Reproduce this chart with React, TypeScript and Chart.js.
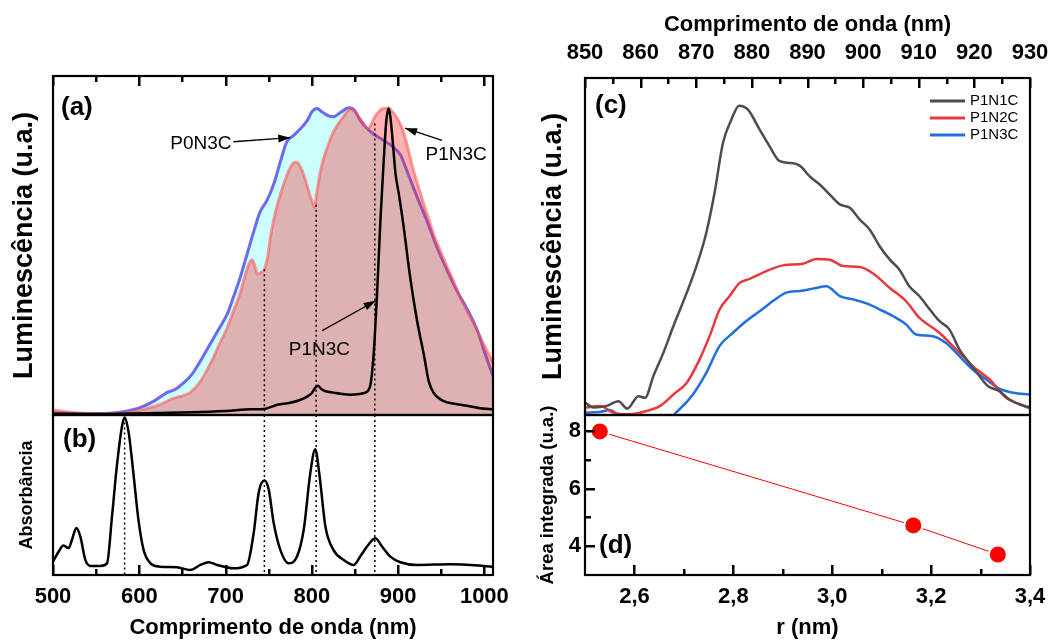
import React, { useEffect, useRef } from 'react';
import { Chart, registerables } from 'chart.js';

Chart.register(...registerables);

const FONT = "'Liberation Sans', Arial, Helvetica, sans-serif";
Chart.defaults.font.family = FONT;
Chart.defaults.color = '#000';

const W = 1049;
const H = 641;

// ---------- Panel (a): luminescence (nm, normalised) ----------
const A_P0N3C_X = [500, 520, 545, 565, 582, 601, 617, 632, 642, 652, 661, 671, 680, 690, 702, 709, 717, 725, 733, 740, 748, 756, 764, 771, 779, 787, 795, 800, 806, 812, 820, 825, 833, 843, 849, 856, 864, 872, 883, 895, 903, 910, 922, 934, 945, 957, 968, 980, 992, 1001, 1010];
const A_P0N3C_Y = [0.006, 0.005, 0.004, 0.005, 0.01, 0.022, 0.041, 0.066, 0.076, 0.096, 0.12, 0.16, 0.2, 0.244, 0.298, 0.347, 0.406, 0.475, 0.544, 0.599, 0.633, 0.682, 0.751, 0.806, 0.825, 0.845, 0.87, 0.894, 0.904, 0.894, 0.882, 0.88, 0.892, 0.906, 0.9, 0.87, 0.845, 0.828, 0.81, 0.789, 0.766, 0.722, 0.643, 0.569, 0.495, 0.426, 0.367, 0.313, 0.249, 0.18, 0.115];

const A_P1N3C_X = [500, 520, 550, 582, 600, 613, 625, 640, 652, 660, 671, 680, 686, 694, 702, 709, 717, 722, 727, 731, 734, 737, 741, 745, 749, 752, 758, 764, 770, 775, 781, 785, 789, 793, 797, 801, 803, 806, 810, 814, 818, 825, 835, 845, 850, 855, 860, 864, 868, 872, 877, 882, 889, 894, 899, 904, 908, 913, 918, 924, 930, 936, 941, 949, 957, 965, 972, 980, 988, 995, 1002, 1010];
const A_P1N3C_Y = [0.015, 0.008, 0.004, 0.006, 0.014, 0.022, 0.032, 0.05, 0.058, 0.068, 0.1, 0.14, 0.17, 0.215, 0.258, 0.305, 0.36, 0.405, 0.445, 0.458, 0.44, 0.416, 0.42, 0.43, 0.47, 0.525, 0.6, 0.655, 0.7, 0.73, 0.746, 0.74, 0.72, 0.69, 0.655, 0.625, 0.613, 0.66, 0.72, 0.76, 0.79, 0.835, 0.875, 0.902, 0.895, 0.878, 0.86, 0.845, 0.853, 0.875, 0.893, 0.904, 0.905, 0.893, 0.875, 0.85, 0.82, 0.77, 0.72, 0.67, 0.62, 0.575, 0.535, 0.485, 0.436, 0.39, 0.347, 0.305, 0.268, 0.23, 0.195, 0.155];

const A_NARROW_X = [500, 540, 580, 620, 660, 700, 730, 745, 760, 775, 787, 795, 800, 804, 807, 811, 816, 825, 835, 845, 855, 862, 866, 868, 870, 872.5, 875.6, 879.5, 883.3, 886.4, 889, 891, 894, 897, 900.8, 906.5, 914, 922, 929.7, 935.5, 941, 953, 965, 980, 995, 1010];
const A_NARROW_Y = [0.004, 0.003, 0.004, 0.006, 0.008, 0.012, 0.017, 0.018, 0.03, 0.036, 0.045, 0.055, 0.065, 0.08, 0.086, 0.077, 0.07, 0.066, 0.062, 0.06, 0.062, 0.066, 0.075, 0.09, 0.13, 0.21, 0.357, 0.574, 0.75, 0.87, 0.904, 0.88, 0.8, 0.712, 0.653, 0.554, 0.406, 0.278, 0.18, 0.1, 0.066, 0.041, 0.033, 0.027, 0.02, 0.017];

const A_MARK_X = [745, 805, 873];
const A_MARK_TOP = [0.43, 0.62, 0.86];

// ---------- Panel (b): absorbance ----------
const B_ABS_X = [500, 506.6, 512, 518, 522, 527, 531.7, 537.5, 543, 555, 562.6, 568.4, 574, 580, 583, 587.7, 593.5, 599, 605, 613, 624, 643.7, 659, 670.8, 680.4, 690, 709, 724.9, 732.6, 738.4, 745, 750, 755.8, 763.5, 773, 782.8, 790.6, 798.3, 804, 809, 815.7, 825, 837, 848.5, 856, 864, 873.6, 881.4, 891, 902.6, 922, 960.6, 999, 1010];
const B_ABS_Y = [0.084, 0.147, 0.184, 0.168, 0.22, 0.293, 0.24, 0.094, 0.057, 0.057, 0.073, 0.367, 0.68, 0.93, 0.985, 0.89, 0.62, 0.346, 0.157, 0.073, 0.052, 0.048, 0.031, 0.063, 0.08, 0.063, 0.042, 0.063, 0.262, 0.514, 0.59, 0.535, 0.325, 0.157, 0.073, 0.115, 0.283, 0.64, 0.786, 0.618, 0.304, 0.157, 0.094, 0.063, 0.115, 0.178, 0.23, 0.178, 0.115, 0.08, 0.063, 0.067, 0.057, 0.052];
const B_MARK_X = [583, 745, 805, 873];
const B_MARK_TOP = [0.985, 1, 1, 1];

const AB_X_TICKS = [500, 600, 700, 800, 900, 1000];
const AB_X_MINOR = [550, 650, 750, 850, 950];

// ---------- Panel (c) ----------
const C_P1N1C_X = [850, 851.5, 853.9, 856, 857.6, 859.6, 860.8, 862.3, 864.1, 865.9, 868.3, 870, 871.8, 873.3, 874.8, 876.3, 877.7, 879.3, 881.4, 883.2, 885, 886.8, 888.6, 890.4, 892.2, 894, 895.8, 897.6, 899.4, 901.2, 903, 904.8, 906.5, 908.3, 910.1, 912, 913.7, 915.5, 917.3, 919.1, 920.9, 922.4, 924.5, 926.3, 928.1, 930];
const C_P1N1C_Y = [0.037, 0.022, 0.027, 0.041, 0.019, 0.056, 0.051, 0.116, 0.185, 0.264, 0.363, 0.44, 0.54, 0.66, 0.807, 0.876, 0.918, 0.906, 0.847, 0.797, 0.753, 0.748, 0.74, 0.708, 0.684, 0.654, 0.625, 0.615, 0.58, 0.55, 0.5, 0.461, 0.432, 0.382, 0.353, 0.313, 0.279, 0.254, 0.195, 0.155, 0.116, 0.086, 0.071, 0.046, 0.032, 0.022];
const C_P1N2C_X = [850, 852.7, 855.1, 858.1, 861.1, 863.5, 865.9, 868.3, 870.6, 872.4, 874.2, 876, 877.8, 879.6, 882.6, 885.6, 889.2, 891.6, 894, 896.4, 899.4, 901.8, 904.8, 907.7, 910.1, 913.7, 916.7, 919.7, 922.7, 925.7, 928.1, 930];
const C_P1N2C_Y = [0.022, 0.027, 0.007, 0.002, 0.012, 0.027, 0.061, 0.096, 0.165, 0.234, 0.313, 0.353, 0.392, 0.404, 0.427, 0.444, 0.449, 0.463, 0.461, 0.442, 0.439, 0.42, 0.377, 0.338, 0.289, 0.244, 0.195, 0.145, 0.106, 0.051, 0.032, 0.019];
const C_P1N3C_X = [850, 852.7, 854.5, 856.3, 860, 864, 867, 869.4, 871.8, 874.2, 876.6, 879, 881.4, 883.8, 886.2, 888.6, 891, 893.4, 895.8, 898.2, 900.6, 903, 905.4, 907.7, 909.5, 912.5, 914.9, 917.3, 919.7, 922.1, 924.5, 926.9, 930];
const C_P1N3C_Y = [0.007, 0.009, 0.015, -0.005, -0.02, -0.02, 0.017, 0.061, 0.125, 0.205, 0.244, 0.279, 0.308, 0.338, 0.363, 0.368, 0.375, 0.382, 0.353, 0.343, 0.331, 0.313, 0.293, 0.269, 0.239, 0.234, 0.214, 0.175, 0.135, 0.106, 0.078, 0.066, 0.061];
const C_X_TICKS = [850, 860, 870, 880, 890, 900, 910, 920, 930];
const C_X_MINOR = [855, 865, 875, 885, 895, 905, 915, 925];

// ---------- Panel (d) ----------
const D_R = [2.53, 3.164, 3.335];
const D_AREA = [7.98, 4.72, 3.71];
const D_X_TICKS = [2.6, 2.8, 3.0, 3.2, 3.4];
const D_X_MINOR = [2.7, 2.9, 3.1, 3.3];
const D_Y_TICKS = [4, 6, 8];
const D_Y_MINOR = [5, 7];

// ---------- helpers ----------
const pts = (xs: number[], ys: number[]) => xs.map((x, i) => ({ x, y: ys[i] }));
const fixTicks = (values: number[]) => (scale: any) => {
  scale.ticks = values.map((v) => ({ value: v }));
};
const fitH = (h: number) => (s: any) => {
  s.height = h;
  s.paddingLeft = 0;
  s.paddingRight = 0;
};
const fitW = (w: number) => (s: any) => {
  s.width = w;
  s.paddingTop = 0;
  s.paddingBottom = 0;
};
const noGrid = { display: false, drawTicks: false, drawOnChartArea: false };
const boldFont = (size: number) => ({ size, weight: 'bold' as const });
const comma = (v: any) => Number(v).toFixed(1).replace('.', ',');

type Note = { text: string; x: number; y: number };
type Arrow = { x1: number; y1: number; x2: number; y2: number };
type TickSet = { scale: string; edge: 'top' | 'bottom' | 'left'; values: number[]; len: number };
interface FrameCfg {
  label: string;
  dx: number;
  dy: number;
  notes?: Note[];
  arrows?: Arrow[];
  legend?: boolean;
  tickSets?: TickSet[];
}

const drawArrow = (ctx: CanvasRenderingContext2D, x1: number, y1: number, x2: number, y2: number) => {
  ctx.beginPath();
  ctx.moveTo(x1, y1);
  ctx.lineTo(x2, y2);
  ctx.lineWidth = 1.3;
  ctx.strokeStyle = '#000';
  ctx.stroke();
  const ang = Math.atan2(y2 - y1, x2 - x1);
  const L = 12;
  const Wd = 4;
  const c = Math.cos(ang);
  const s = Math.sin(ang);
  ctx.beginPath();
  ctx.moveTo(x2, y2);
  ctx.lineTo(x2 - L * c + Wd * s, y2 - L * s - Wd * c);
  ctx.lineTo(x2 - L * c - Wd * s, y2 - L * s + Wd * c);
  ctx.closePath();
  ctx.fillStyle = '#000';
  ctx.fill();
};

const makeFrame = (cfg: FrameCfg) => ({
  id: 'frame',
  afterDraw(chart: any) {
    const ctx: CanvasRenderingContext2D = chart.ctx;
    const a = chart.chartArea;
    const scales = chart.scales;
    ctx.save();
    ctx.setLineDash([]);
    ctx.fillStyle = '#000';
    // inward tick marks placed through the chart's own scales
    const sets = cfg.tickSets || [];
    for (let k = 0; k < sets.length; k++) {
      const t = sets[k];
      const sc = scales[t.scale];
      for (let j = 0; j < t.values.length; j++) {
        const p = Math.round(sc.getPixelForValue(t.values[j]));
        if (t.edge === 'bottom') ctx.fillRect(p - 1, a.bottom - t.len, 2.5, t.len);
        else if (t.edge === 'top') ctx.fillRect(p - 1, a.top, 2.5, t.len);
        else ctx.fillRect(a.left, p - 1, t.len, 2.5);
      }
    }
    ctx.strokeStyle = '#000';
    ctx.lineWidth = 2.2;
    ctx.strokeRect(a.left, a.top, a.right - a.left, a.bottom - a.top);
    ctx.textBaseline = 'middle';
    ctx.textAlign = 'left';
    ctx.font = `bold 26px ${FONT}`;
    ctx.fillText(cfg.label, a.left + cfg.dx, a.top + cfg.dy);
    const sx = scales.x;
    const sy = scales.y;
    ctx.font = `19px ${FONT}`;
    ctx.textAlign = 'center';
    (cfg.notes || []).forEach((n) => {
      ctx.fillText(n.text, sx.getPixelForValue(n.x), sy.getPixelForValue(n.y));
    });
    (cfg.arrows || []).forEach((ar) => {
      drawArrow(ctx, sx.getPixelForValue(ar.x1), sy.getPixelForValue(ar.y1), sx.getPixelForValue(ar.x2), sy.getPixelForValue(ar.y2));
    });
    if (cfg.legend) {
      ctx.font = `15px ${FONT}`;
      ctx.textAlign = 'left';
      chart.data.datasets.forEach((ds: any, i: number) => {
        const y = a.top + 23 + 17 * i;
        ctx.strokeStyle = ds.borderColor;
        ctx.lineWidth = 3;
        ctx.beginPath();
        ctx.moveTo(a.right - 100, y);
        ctx.lineTo(a.right - 65, y);
        ctx.stroke();
        ctx.fillStyle = '#000';
        ctx.fillText(ds.label, a.right - 60, y);
      });
    }
    ctx.restore();
  },
});

const baseOptions = (padding: any) => ({
  responsive: false,
  animation: false as const,
  events: [] as any[],
  layout: { padding },
  elements: { point: { radius: 0 }, line: { tension: 0 } },
  plugins: { legend: { display: false }, tooltip: { enabled: false } },
});

const dotted = (xs: number[], tops: number[]) =>
  xs.map((x, i) => ({
    data: [
      { x, y: tops[i] },
      { x, y: 0 },
    ],
    borderColor: '#000',
    borderWidth: 1.5,
    borderDash: [2, 3],
    tension: 0,
    order: 1,
  }));

const hiddenY = (title: string, size: number, width: number, min: number, max: number) => ({
  type: 'linear' as const,
  min,
  max,
  ticks: { display: false },
  grid: noGrid,
  border: { display: false },
  title: { display: true, text: title, font: boldFont(size), color: '#000', padding: 0 },
  afterFit: fitW(width),
});

const cfgA = (): any => ({
  type: 'line',
  data: {
    datasets: [
      { label: 'P1N3C', data: pts(A_NARROW_X, A_NARROW_Y), borderColor: '#000', borderWidth: 2.5, cubicInterpolationMode: 'monotone', order: 0 },
      ...dotted(A_MARK_X, A_MARK_TOP),
      {
        label: 'P1N3C',
        data: pts(A_P1N3C_X, A_P1N3C_Y),
        borderColor: 'rgba(255,80,80,0.55)',
        backgroundColor: 'rgba(255,35,35,0.35)',
        fill: 'origin',
        borderWidth: 3,
        cubicInterpolationMode: 'monotone',
        order: 2,
      },
      {
        label: 'P0N3C',
        data: pts(A_P0N3C_X, A_P0N3C_Y),
        borderColor: '#6a6af2',
        backgroundColor: '#ccffff',
        fill: 'origin',
        borderWidth: 3,
        cubicInterpolationMode: 'monotone',
        order: 3,
      },
    ],
  },
  options: {
    ...baseOptions({ left: 8, top: 76, right: W - 493, bottom: H - 415 }),
    scales: {
      x: { type: 'linear', min: 500, max: 1010, display: false },
      y: hiddenY('Luminescência (u.a.)', 27, 45, 0, 1),
    },
  },
  plugins: [
    makeFrame({
      label: '(a)', dx: 8, dy: 32,
      tickSets: [
        { scale: 'x', edge: 'top', values: AB_X_TICKS, len: 10 },
        { scale: 'x', edge: 'top', values: AB_X_MINOR, len: 6 },
      ],
      notes: [
        { text: 'P0N3C', x: 671.5, y: 0.8 },
        { text: 'P1N3C', x: 967.3, y: 0.768 },
        { text: 'P1N3C', x: 808.8, y: 0.192 },
      ],
      arrows: [
        { x1: 709, y1: 0.806, x2: 775, y2: 0.818 },
        { x1: 951, y1: 0.81, x2: 908, y2: 0.846 },
        { x1: 812, y1: 0.249, x2: 874, y2: 0.337 },
      ],
    }),
  ],
});

const cfgB = (): any => ({
  type: 'line',
  data: {
    datasets: [
      { label: 'Absorbância', data: pts(B_ABS_X, B_ABS_Y), borderColor: '#000', borderWidth: 2.5, cubicInterpolationMode: 'monotone', order: 0 },
      ...dotted(B_MARK_X, B_MARK_TOP),
    ],
  },
  options: {
    ...baseOptions({ left: 16, top: 415, right: W - 493, bottom: 0 }),
    scales: {
      x: {
        type: 'linear', position: 'bottom', min: 500, max: 1010,
        ticks: { font: boldFont(22), color: '#000', padding: 8.8, maxRotation: 0, minRotation: 0, autoSkip: false, callback: (v: any) => String(v) },
        grid: noGrid, border: { display: false },
        title: { display: true, text: 'Comprimento de onda (nm)', font: boldFont(22), color: '#000', padding: 0 },
        afterBuildTicks: fixTicks(AB_X_TICKS), afterFit: fitH(66),
      },
      y: hiddenY('Absorbância', 18, 37, 0, 1),
    },
  },
  plugins: [
    makeFrame({
      label: '(b)', dx: 10, dy: 25,
      tickSets: [
        { scale: 'x', edge: 'bottom', values: AB_X_TICKS, len: 10 },
        { scale: 'x', edge: 'bottom', values: AB_X_MINOR, len: 6 },
      ],
    }),
  ],
});

const cfgC = (): any => ({
  type: 'line',
  data: {
    datasets: [
      { label: 'P1N1C', data: pts(C_P1N1C_X, C_P1N1C_Y), borderColor: '#4d4d4d', borderWidth: 2.5, cubicInterpolationMode: 'monotone' },
      { label: 'P1N2C', data: pts(C_P1N2C_X, C_P1N2C_Y), borderColor: '#e8383d', borderWidth: 2.5, cubicInterpolationMode: 'monotone' },
      { label: 'P1N3C', data: pts(C_P1N3C_X, C_P1N3C_Y), borderColor: '#1f6fdf', borderWidth: 2.5, cubicInterpolationMode: 'monotone' },
    ],
  },
  options: {
    ...baseOptions({ left: 537, top: 0, right: W - 1030, bottom: H - 415 }),
    scales: {
      x: {
        type: 'linear', position: 'top', min: 850, max: 930,
        ticks: { font: boldFont(22), color: '#000', padding: 12.3, maxRotation: 0, minRotation: 0, autoSkip: false, callback: (v: any) => String(v) },
        grid: noGrid, border: { display: false },
        title: { display: true, text: 'Comprimento de onda (nm)', font: boldFont(22), color: '#000', padding: { top: 11.8, bottom: 0 } },
        afterBuildTicks: fixTicks(C_X_TICKS), afterFit: fitH(78),
      },
      y: hiddenY('Luminescência (u.a.)', 27, 48, 0, 1),
    },
  },
  plugins: [
    makeFrame({
      label: '(c)', dx: 10, dy: 28, legend: true,
      tickSets: [
        { scale: 'x', edge: 'top', values: C_X_TICKS, len: 10 },
        { scale: 'x', edge: 'top', values: C_X_MINOR, len: 6 },
      ],
    }),
  ],
});

const cfgD = (): any => ({
  type: 'line',
  data: {
    datasets: [
      {
        label: 'Área integrada',
        data: pts(D_R, D_AREA),
        borderColor: '#ff0000',
        borderWidth: 1,
        pointRadius: 9,
        pointBackgroundColor: '#ff0000',
        pointBorderColor: '#ffffff',
        pointBorderWidth: 2,
        tension: 0,
      },
    ],
  },
  options: {
    ...baseOptions({ left: 537, top: 415, right: W - 1030, bottom: 0 }),
    scales: {
      x: {
        type: 'linear', position: 'bottom', min: 2.5, max: 3.4,
        ticks: { font: boldFont(22), color: '#000', padding: 8.8, maxRotation: 0, minRotation: 0, autoSkip: false, callback: comma },
        grid: noGrid, border: { display: false },
        title: { display: true, text: 'r (nm)', font: boldFont(22), color: '#000', padding: 0 },
        afterBuildTicks: fixTicks(D_X_TICKS), afterFit: fitH(66),
      },
      y: {
        type: 'linear', position: 'left', min: 3, max: 8.55,
        ticks: { font: boldFont(22), color: '#000', padding: 4, autoSkip: false, callback: (v: any) => String(v) },
        grid: noGrid, border: { display: false },
        title: { display: true, text: 'Área integrada (u.a.)', font: boldFont(18.5), color: '#000', padding: 0 },
        afterBuildTicks: fixTicks(D_Y_TICKS), afterFit: fitW(48),
      },
    },
  },
  plugins: [
    makeFrame({
      label: '(d)', dx: 14, dy: 131,
      tickSets: [
        { scale: 'x', edge: 'bottom', values: D_X_TICKS, len: 10 },
        { scale: 'x', edge: 'bottom', values: D_X_MINOR, len: 6 },
        { scale: 'y', edge: 'left', values: D_Y_TICKS, len: 10 },
        { scale: 'y', edge: 'left', values: D_Y_MINOR, len: 6 },
      ],
    }),
  ],
});

export default function App() {
  const ra = useRef<HTMLCanvasElement>(null);
  const rb = useRef<HTMLCanvasElement>(null);
  const rc = useRef<HTMLCanvasElement>(null);
  const rd = useRef<HTMLCanvasElement>(null);

  useEffect(() => {
    const charts = [
      new Chart(ra.current as HTMLCanvasElement, cfgA()),
      new Chart(rb.current as HTMLCanvasElement, cfgB()),
      new Chart(rc.current as HTMLCanvasElement, cfgC()),
      new Chart(rd.current as HTMLCanvasElement, cfgD()),
    ];
    return () => charts.forEach((c) => c.destroy());
  }, []);

  const cs: React.CSSProperties = { position: 'absolute', left: 0, top: 0, width: W, height: H };
  return (
    <div style={{ position: 'absolute', left: 0, top: 0, width: W, height: H, background: '#fff', overflow: 'hidden' }}>
      <canvas ref={ra} width={W} height={H} style={cs} />
      <canvas ref={rb} width={W} height={H} style={cs} />
      <canvas ref={rc} width={W} height={H} style={cs} />
      <canvas ref={rd} width={W} height={H} style={cs} />
    </div>
  );
}
